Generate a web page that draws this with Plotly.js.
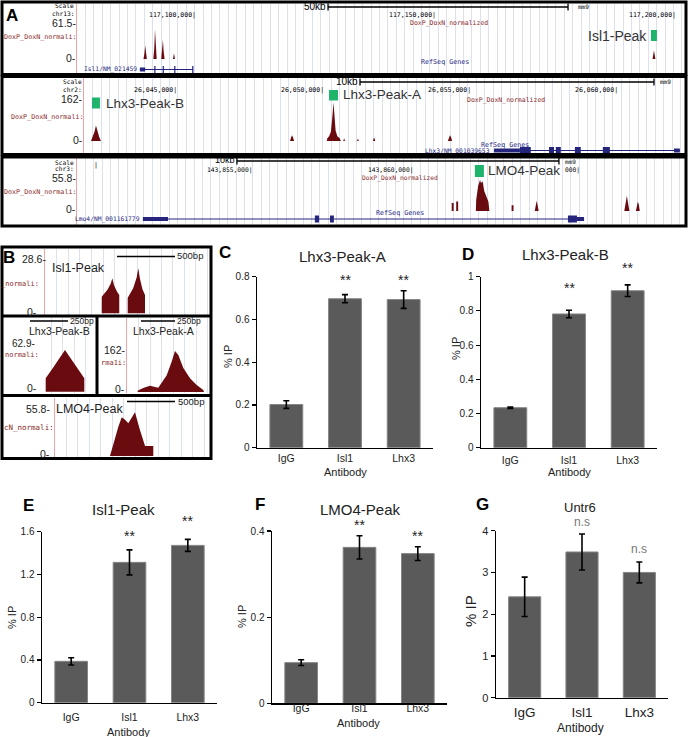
<!DOCTYPE html>
<html><head><meta charset="utf-8">
<script src="https://cdn.plot.ly/plotly-3.0.1.min.js"></script>
<style>html,body{margin:0;padding:0;background:#fff}#fig{width:688px;height:737px}</style>
</head><body><div id="fig"></div>
<script>
// ================= DATA =================
const antibodies = ['IgG', 'Isl1', 'Lhx3'];

// C: Lhx3-Peak-A (% IP)
const peakA_pct = [0.202, 0.697, 0.693];
const peakA_err = [0.018, 0.019, 0.041];
const peakA_sig = ['', '**', '**'];
const peakA_sigY = [null, 0.785, 0.785];
// D: Lhx3-Peak-B
const peakB_pct = [0.234, 0.782, 0.918];
const peakB_err = [0.004, 0.022, 0.034];
const peakB_sig = ['', '**', '**'];
const peakB_sigY = [null, 0.935, 1.05];
// E: Isl1-Peak
const isl1_pct = [0.387, 1.313, 1.472];
const isl1_err = [0.034, 0.117, 0.056];
const isl1_sig = ['', '**', '**'];
const isl1_sigY = [null, 1.56, 1.70];
// F: LMO4-Peak
const lmo4_pct = [0.0944, 0.362, 0.3475];
const lmo4_err = [0.0066, 0.027, 0.016];
const lmo4_sig = ['', '**', '**'];
const lmo4_sigY = [null, 0.413, 0.389];
// G: Untr6
const untr6_pct = [2.416, 3.49, 3.0];
const untr6_err = [0.472, 0.43, 0.25];
const untr6_sig = ['', 'n.s', 'n.s'];
const untr6_sigY = [null, 4.22, 3.57];

// A: browser signal (x in kb, y = DoxP_DoxN_normalized)
const chr13_x = [117088.85,117089.05,117089.2,117089.35,117089.55, 117090.9,117091.1,117091.25,117091.4,117091.6, 117092.55,117092.75,117092.9,117093.05,117093.25, 117095.0,117095.2,117095.4, 117194.9,117195.05,117195.2,117195.35,117195.5];
const chr13_y = [0,9,23,9,0, 0,18,49,18,0, 0,13,32,13,0, 0,9.5,0, 0,7,14,7,0];
const chr2_x = [26042.04,26042.1,26042.16,26042.21,26042.26,26042.32,26042.38, 26048.81,26048.85,26048.88,26048.91,26048.95, 26050.06,26050.08,26050.14,26050.2,26050.25,26050.29,26050.32,26050.36,26050.42,26050.5,26050.54, 26050.62,26050.65,26050.68, 26051.09,26051.12,26051.15, 26051.63,26051.67,26051.71, 26054.18,26054.21,26054.25,26054.29,26054.32];
const chr2_y = [0,15,35,58,35,15,0, 0,14,22,14,0, 0,10,18,35,90,145,100,40,18,10,0, 0,10,0, 0,9,0, 0,14,0, 0,14,22,14,0];
const chr3_x = [143861.14,143861.14,143861.2,143861.2, 143861.28,143861.28,143861.34,143861.34, 143861.89,143861.9,143861.96,143862.02,143862.05,143862.1,143862.15,143862.21,143862.28,143862.31, 143863.0,143863.0,143863.06,143863.06, 143863.72,143863.75,143863.78,143863.81,143863.84, 143866.5,143866.54,143866.58,143866.62,143866.66, 143866.86,143866.89,143866.92,143866.95,143866.98];
const chr3_y = [0,13,13,0, 0,15.6,15.6,0, 0,18,41,51,46,49,33,25,15,0, 0,9.6,9.6,0, 0,9,17,9,0, 0,12,25,12,0, 0,11,15,11,0];

// peak label positions (kb)
const isl1PeakPos = 117195.2, lhx3PeakBPos = 26042.21, lhx3PeakAPos = 26050.29, lmo4PeakPos = 143862.0;

// gene models (kb)
const isl1Gene = [117088.1, 117099.2];
const isl1ExS = [117088.1, 117091.1, 117092.85, 117095.25, 117099.0];
const isl1ExE = [117089.2, 117091.35, 117093.1, 117095.5, 117099.25];
const isl1ExH = ['m', 't', 't', 't', 't'];
const lhx3Gene = [26055.75, 26062.07];
const lhx3ExS = [26055.75, 26056.63, 26057.62, 26057.85, 26058.5, 26059.45, 26061.87];
const lhx3ExE = [26056.63, 26057.0, 26057.79, 26058.02, 26058.7, 26059.69, 26062.07];
const lhx3ExH = ['m', 't', 't', 't', 't', 't', 'm'];
const lmo4Gene = [143851.55, 143865.25];
const lmo4ExS = [143851.55, 143856.89, 143857.36, 143864.75, 143865.03];
const lmo4ExE = [143852.33, 143857.02, 143857.48, 143865.03, 143865.25];
const lmo4ExH = ['m', 't', 't', 't', 'm'];

// B: zoomed peak profiles (x in bp)
const bIsl1_x = [489,489,540,568,580,595,620,640,640, 713,713,760,790,804,818,840,862,862];
const bIsl1_y = [0,8.6,12.3,15.5,18.1,14.5,11.3,9.5,0, 0,8,13,18.5,23.3,18,12.5,9.5,0];
const bLhx3B_x = [37.5,37.5,80,120,150,164.5,180,210,250,291.5,291.5];
const bLhx3B_y = [0,16,27,38,45.5,49.8,45.5,37.8,27,16,0];
const bLhx3A_x = [76,84,124,169,230,292,328,353,377,414,463,512,561,566];
const bLhx3A_y = [0,6,16,23,16,62,111,151,136,88,51,26,7,0];
const bLmo4_x = [585,638,674,710,745,780,816,851,904,958,1046,1046];
const bLmo4_y = [0,21.4,35.6,47,44,39.6,47,53,31.5,12,12,0];

// ================= LAYOUT HELPERS =================
const W = 688, H = 737;
const px = x => x / W, py = y => 1 - y / H;
function lin(p0, p1, a1, v1, a2, v2) { const s = (v2 - v1) / (a2 - a1); return [v1 + (p0 - a1) * s, v1 + (p1 - a1) * s]; }
const SANS = 'Liberation Sans, Arial, sans-serif', MONO = 'DejaVu Sans Mono, monospace';
const MAROON = '#6a0b10', REDT = '#8a2a2a', NAVY = '#25257d', GREEN = '#1fb46c', GRID = '#dde0ef', PINK = '#f2a3a3';
const BAR = '#5a5a5a';

const layout = {width: W, height: H, margin: {l: 0, r: 0, t: 0, b: 0}, paper_bgcolor: '#fff', plot_bgcolor: 'rgba(0,0,0,0)',
  showlegend: false, font: {family: SANS}, annotations: [], shapes: []};
const ann = layout.annotations, shp = layout.shapes;
const data = [];

function T(x, y, text, o = {}) {
  ann.push(Object.assign({x: px(x), y: py(y), xref: 'paper', yref: 'paper', text, showarrow: false,
    xanchor: o.xa || 'center', yanchor: 'middle', borderpad: 0,
    font: {family: o.ff || SANS, size: o.s || 10, color: o.c || '#000'}}, o.extra || {}));
}
function TD(axis, x, y, text, o = {}) {
  ann.push({x, y: py(y), xref: axis, yref: 'paper', text, showarrow: false, xanchor: o.xa || 'right', yanchor: 'middle', borderpad: 0,
    font: {family: o.ff || MONO, size: o.s || 6.5, color: o.c || '#000'}});
}
function LP(x0, y0, x1, y1, color, w) { shp.push({type: 'line', xref: 'paper', yref: 'paper', x0: px(x0), y0: py(y0), x1: px(x1), y1: py(y1), line: {color, width: w}}); }
function RP(x0, y0, x1, y1, w) { shp.push({type: 'rect', xref: 'paper', yref: 'paper', x0: px(x0), y0: py(y0), x1: px(x1), y1: py(y1), line: {color: '#000', width: w}}); }

// ---------- bar subplots ----------
function barPanel(i, x0, x1, yb, yt, range, dtick, yts, xts, stand, vals, errs, sig, sigY, sigColor, sigSize) {
  const s = i === 1 ? '' : String(i);
  const yax = {domain: [py(yb), py(yt)], anchor: 'x' + s, range, dtick, tick0: 0, showline: true, linecolor: '#000', linewidth: 1.5,
    ticks: 'outside', ticklen: 4, tickwidth: 1.2, tickcolor: '#000', tickfont: {family: SANS, size: yts, color: '#222'}, showgrid: false, zeroline: false, fixedrange: true};
  layout['xaxis' + s] = {domain: [px(x0), px(x1)], anchor: 'y' + s, type: 'category', range: [-0.5, 2.5], showline: true, linecolor: '#000', linewidth: 1.5,
    ticks: '', tickfont: {family: SANS, size: xts, color: '#222'}, showgrid: false, zeroline: false, fixedrange: true, ticklabelstandoff: stand};
  layout['yaxis' + s] = yax;
  data.push({type: 'bar', x: antibodies, y: vals, xaxis: 'x' + s, yaxis: 'y' + s, width: 0.56,
    marker: {color: BAR, line: {color: '#858585', width: 1}},
    error_y: {type: 'data', array: errs, visible: true, color: '#000', thickness: 1.6, width: 3}, hoverinfo: 'skip'});
  // significance marks: placed through the subplot's own y scale (may lie above the axis top)
  sig.forEach((t, k) => {
    if (sigY[k] === null || !t) return;
    const f = (sigY[k] - range[0]) / (range[1] - range[0]);
    ann.push({x: antibodies[k], xref: 'x' + s, y: yax.domain[0] + f * (yax.domain[1] - yax.domain[0]), yref: 'paper', text: t, showarrow: false,
      yanchor: 'middle', xanchor: 'center', borderpad: 0, font: {family: SANS, size: sigSize, color: sigColor}});
  });
}
barPanel(1, 257, 433, 447.7, 276.7, [0, 0.8], 0.2, 10, 10.5, 0, peakA_pct, peakA_err, peakA_sig, peakA_sigY, '#222', 14);
barPanel(2, 481, 657, 447.7, 276.7, [0, 1], 0.2, 10, 10.5, 2, peakB_pct, peakB_err, peakB_sig, peakB_sigY, '#222', 14);
barPanel(3, 42, 217, 702.7, 531.7, [0, 1.6], 0.4, 10, 10.5, 4, isl1_pct, isl1_err, isl1_sig, isl1_sigY, '#222', 14);
barPanel(4, 272, 447, 703.3, 531, [0, 0.4], 0.2, 10, 10.5, -5, lmo4_pct, lmo4_err, lmo4_sig, lmo4_sigY, '#222', 14);
barPanel(5, 496, 668, 697.7, 530.7, [0, 4], 1, 11, 13.5, 2, untr6_pct, untr6_err, untr6_sig, untr6_sigY, '#777', 12);

// bar panel texts
T(225, 252, '<b>C</b>', {s: 17}); T(342, 256.5, 'Lhx3-Peak-A', {s: 15, c: '#222'});
T(228, 356, '% IP', {s: 11, c: '#222', extra: {textangle: -90}}); T(345, 472, 'Antibody', {s: 11, c: '#222'});
T(468, 254, '<b>D</b>', {s: 17}); T(565, 254, 'Lhx3-Peak-B', {s: 15, c: '#222'});
T(456, 348, '% IP', {s: 11, c: '#222', extra: {textangle: -90}}); T(569, 472, 'Antibody', {s: 11, c: '#222'});
T(28, 505, '<b>E</b>', {s: 17}); T(124, 510, 'Isl1-Peak', {s: 15, c: '#222'});
T(12, 618, '% IP', {s: 11, c: '#222', extra: {textangle: -90}}); T(128, 731.5, 'Antibody', {s: 11, c: '#222'});
T(260, 504, '<b>F</b>', {s: 17}); T(360, 509, 'LMO4-Peak', {s: 15, c: '#222'});
T(242, 617, '% IP', {s: 11, c: '#222', extra: {textangle: -90}}); T(358, 722.5, 'Antibody', {s: 11, c: '#222'});
T(482, 504, '<b>G</b>', {s: 17}); T(580, 507.7, 'Untr6', {s: 13, c: '#222'});
T(470, 611, '% IP', {s: 15, c: '#222', extra: {textangle: -90}}); T(580, 728, 'Antibody', {s: 12, c: '#222'});

// ---------- browser tracks ----------
function track(i, x0, x1, yb, yt, xr, yr, dtick, red, xs, ys) {
  layout['xaxis' + i] = {domain: [px(x0), px(x1)], anchor: 'y' + i, range: xr, showgrid: true, gridcolor: GRID, gridwidth: 1, dtick, tick0: xr[0] + dtick,
    showticklabels: false, ticks: '', zeroline: false, showline: false, fixedrange: true};
  layout['yaxis' + i] = {domain: [py(yb), py(yt)], anchor: 'x' + i, range: yr, showgrid: false, zeroline: false, showticklabels: false, ticks: '',
    showline: red, linecolor: PINK, linewidth: 1, fixedrange: true};
  data.push({type: 'scatter', mode: 'lines', x: xs, y: ys, xaxis: 'x' + i, yaxis: 'y' + i, fill: 'tozeroy', fillcolor: MAROON,
    line: {color: MAROON, width: 0}, hoverinfo: 'skip'});
}
// A
track(6, 77, 685, 73, 4, lin(77, 685, 197, 117100, 437, 117150), lin(73, 4, 59, 0, 22, 61.5), 1.75, true, chr13_x, chr13_y);
track(7, 84, 685, 153, 78, lin(84, 685, 178, 26045, 325, 26050), lin(153, 78, 141, 0, 98, 162), 0.29, true, chr2_x, chr2_y);
track(8, 77, 685, 225, 158, lin(77, 685, 254, 143855, 415, 143860), lin(225, 158, 211, 0, 177, 55.8), 0.26, true, chr3_x, chr3_y);
// B
track(9, 45, 209, 315, 249, lin(45, 209, 45, 0, 46, 8.62), lin(315, 249, 313.3, 0, 258, 28.6), 100, true, bIsl1_x, bIsl1_y);
track(10, 40, 95, 393, 318, lin(40, 95, 40, 0, 41, 6.58), lin(393, 318, 391.7, 0, 339, 62.9), 75, false, bLhx3B_x, bLhx3B_y);
track(11, 127, 209, 393, 318, lin(127, 209, 127, 0, 128, 7.35), lin(393, 318, 392, 0, 348, 162), 85, true, bLhx3A_x, bLhx3A_y);
track(12, 55, 209, 457, 398, lin(55, 209, 55, 0, 56, 10.64), lin(457, 398, 456, 0, 410, 55.8), 122, true, bLmo4_x, bLmo4_y);

function gene(axis, yc, g, exS, exE, exH) {
  shp.push({type: 'line', xref: axis, yref: 'paper', x0: g[0], x1: g[1], y0: py(yc), y1: py(yc), line: {color: NAVY, width: 1}});
  exS.forEach((v, k) => { const h = exH[k] === 't' ? 3.5 : 2;
    shp.push({type: 'rect', xref: axis, yref: 'paper', x0: v, x1: exE[k], y0: py(yc + h), y1: py(yc - h), fillcolor: NAVY, line: {width: 0}}); });
}
gene('x6', 69.5, isl1Gene, isl1ExS, isl1ExE, isl1ExH);
gene('x7', 150.5, lhx3Gene, lhx3ExS, lhx3ExE, lhx3ExH);
gene('x8', 219, lmo4Gene, lmo4ExS, lmo4ExE, lmo4ExH);

function greenBox(axis, pos, w, y0, y1) {
  shp.push({type: 'rect', xref: axis, yref: 'paper', xsizemode: 'pixel', xanchor: pos, x0: -w / 2, x1: w / 2, y0: py(y1), y1: py(y0), fillcolor: GREEN, line: {width: 0}});
}
greenBox('x6', isl1PeakPos, 6, 30, 41);
greenBox('x7', lhx3PeakBPos, 8, 97.5, 108.5);
greenBox('x7', lhx3PeakAPos, 9, 90, 100.5);
greenBox('x8', lmo4PeakPos, 9, 165, 177);

function scaleBar(axis, a, b, y) {
  shp.push({type: 'line', xref: axis, yref: 'paper', x0: a, x1: b, y0: py(y), y1: py(y), line: {color: '#000', width: 1.3}});
  [a, b].forEach(v => shp.push({type: 'line', xref: axis, yref: 'paper', x0: v, x1: v, y0: py(y - 3.5), y1: py(y + 3.5), line: {color: '#000', width: 1.3}}));
}
scaleBar('x6', 117127.3, 117177.3, 7);
scaleBar('x7', 26051.19, 26061.19, 82);
scaleBar('x8', 143854.47, 143864.47, 161);

// track 1 texts
T(12, 15, '<b>A</b>', {s: 17});
T(75, 5.5, 'Scale', {xa: 'right', ff: MONO, s: 6.2}); T(75, 13.5, 'chr13:', {xa: 'right', ff: MONO, s: 6.2});
T(77, 22.5, '61.5-', {xa: 'right', s: 10.5, c: '#222'}); T(77, 37, 'DoxP_DoxN_normali:', {xa: 'right', ff: MONO, s: 6.7, c: REDT});
T(77, 58, '0-', {xa: 'right', s: 10.5, c: '#222'});
T(327, 7, '50kb', {xa: 'right', s: 10}); T(577, 7, 'mm9', {xa: 'left', ff: MONO, s: 6});
TD('x6', 117100, 15, '117,100,000|'); TD('x6', 117150, 15, '117,150,000|'); TD('x6', 117200, 15, '117,200,000|');
T(449, 22.5, 'DoxP_DoxN_normalized', {ff: MONO, s: 6.5, c: REDT});
T(648, 36, 'Isl1-Peak', {xa: 'right', s: 14, c: '#333'});
T(445, 62, 'RefSeq Genes', {ff: MONO, s: 6.7, c: NAVY});
T(138, 69.5, 'Isl1/NM_021459', {xa: 'right', ff: MONO, s: 6.3, c: NAVY});
// track 2 texts
T(83, 82, 'Scale', {xa: 'right', ff: MONO, s: 6.2}); T(83, 89, 'chr2:', {xa: 'right', ff: MONO, s: 6.2});
T(84, 98.5, '162-', {xa: 'right', s: 10.5, c: '#222'}); T(84, 117, 'DoxP_DoxN_normali:', {xa: 'right', ff: MONO, s: 6.7, c: REDT});
T(84, 140, '0-', {xa: 'right', s: 10.5, c: '#222'});
T(359, 82, '10kb', {xa: 'right', s: 10}); T(659, 82, 'mm9', {xa: 'left', ff: MONO, s: 6});
TD('x7', 26045, 90, '26,045,000|'); TD('x7', 26050, 90, '26,050,000|'); TD('x7', 26055, 90, '26,055,000|'); TD('x7', 26060, 90, '26,060,000|');
T(105, 103.5, 'Lhx3-Peak-B', {xa: 'left', s: 13.5, c: '#333'});
T(342, 95, 'Lhx3-Peak-A', {xa: 'left', s: 13.5, c: '#333'});
T(506, 99.5, 'DoxP_DoxN_normalized', {ff: MONO, s: 6.5, c: REDT});
T(505, 145, 'RefSeq Genes', {ff: MONO, s: 6.7, c: NAVY});
T(491, 151, 'Lhx3/NM_001039653', {xa: 'right', ff: MONO, s: 6.3, c: NAVY});
// track 3 texts
T(75, 162.5, 'Scale', {xa: 'right', ff: MONO, s: 6.2}); T(75, 169, 'chr3:', {xa: 'right', ff: MONO, s: 6.2});
T(77, 178, '55.8-', {xa: 'right', s: 10.5, c: '#222'}); T(77, 192, 'DoxP_DoxN_normali:', {xa: 'right', ff: MONO, s: 6.7, c: REDT});
T(77, 209, '0-', {xa: 'right', s: 10.5, c: '#222'});
T(96, 165, '|', {ff: MONO, s: 6.5});
T(236, 160.5, '10kb', {xa: 'right', s: 9}); T(564, 161, 'mm9', {xa: 'left', ff: MONO, s: 6}); T(564, 170, '000|', {xa: 'left', ff: MONO, s: 6.3});
TD('x8', 143855, 170, '143,855,000|', {s: 6.3}); TD('x8', 143860, 170, '143,860,000|', {s: 6.3});
T(400, 178, 'DoxP_DoxN_normalized', {ff: MONO, s: 6.3, c: REDT});
T(487, 171, 'LMO4-Peak', {xa: 'left', s: 13.5, c: '#333'});
T(400, 213, 'RefSeq Genes', {ff: MONO, s: 6.7, c: NAVY});
T(141, 219, 'Lmo4/NM_001161779', {xa: 'right', ff: MONO, s: 6.3, c: NAVY});

// panel B texts
T(9, 257, '<b>B</b>', {s: 17});
T(47, 259, '28.6-', {xa: 'right', s: 10.5, c: '#222'}); T(51, 268, 'Isl1-Peak', {xa: 'left', s: 12.5, c: '#222'});
LP(117, 256.5, 175, 256.5, '#000', 1.5); T(176, 256, '500bp', {xa: 'left', s: 9.5, c: '#222'});
T(40, 284, '_normali:', {xa: 'right', ff: MONO, s: 7, c: REDT}); T(38, 312, '0-', {xa: 'right', s: 10.5, c: '#222'});
LP(30, 321, 68, 321, '#000', 1.5); T(69, 320.5, '250bp', {xa: 'left', s: 8.5, c: '#222'});
T(59, 331, 'Lhx3-Peak-B', {s: 10.5, c: '#222'});
T(36, 343, '62.9-', {xa: 'right', s: 10, c: '#222'}); T(40, 355, 'normali:', {xa: 'right', ff: MONO, s: 7, c: REDT});
T(38, 388, '0-', {xa: 'right', s: 10.5, c: '#222'});
LP(141, 321, 175, 321, '#000', 1.5); T(176, 320.5, '250bp', {xa: 'left', s: 8.5, c: '#222'});
T(163, 331, 'Lhx3-Peak-A', {s: 10.5, c: '#222'});
T(127, 349.5, '162-', {xa: 'right', s: 10.5, c: '#222'}); T(127, 362.5, 'rma1i:', {xa: 'right', ff: MONO, s: 7, c: REDT});
T(126, 389, '0-', {xa: 'right', s: 10.5, c: '#222'});
LP(127, 401.5, 175, 401.5, '#000', 1.5); T(177, 401, '500bp', {xa: 'left', s: 9.5, c: '#222'});
T(51, 409, '55.8-', {xa: 'right', s: 10.5, c: '#222'}); T(55, 409, 'LMO4-Peak', {xa: 'left', s: 12.5, c: '#222'});
T(55, 427.5, 'cN_normali:', {xa: 'right', ff: MONO, s: 7.5, c: REDT}); T(51, 454, '0-', {xa: 'right', s: 10.5, c: '#222'});

// borders
RP(2, 2, 686, 74.5, 3); RP(2, 76.5, 686, 154.5, 3); RP(2, 157, 686, 226, 3);
RP(2, 247, 211, 458.5, 3); LP(2, 316, 211, 316, '#000', 3); LP(2, 395.5, 211, 395.5, '#000', 3); LP(97, 316, 97, 395.5, '#000', 3);

Plotly.newPlot('fig', data, layout, {staticPlot: true, displayModeBar: false});
</script></body></html>
